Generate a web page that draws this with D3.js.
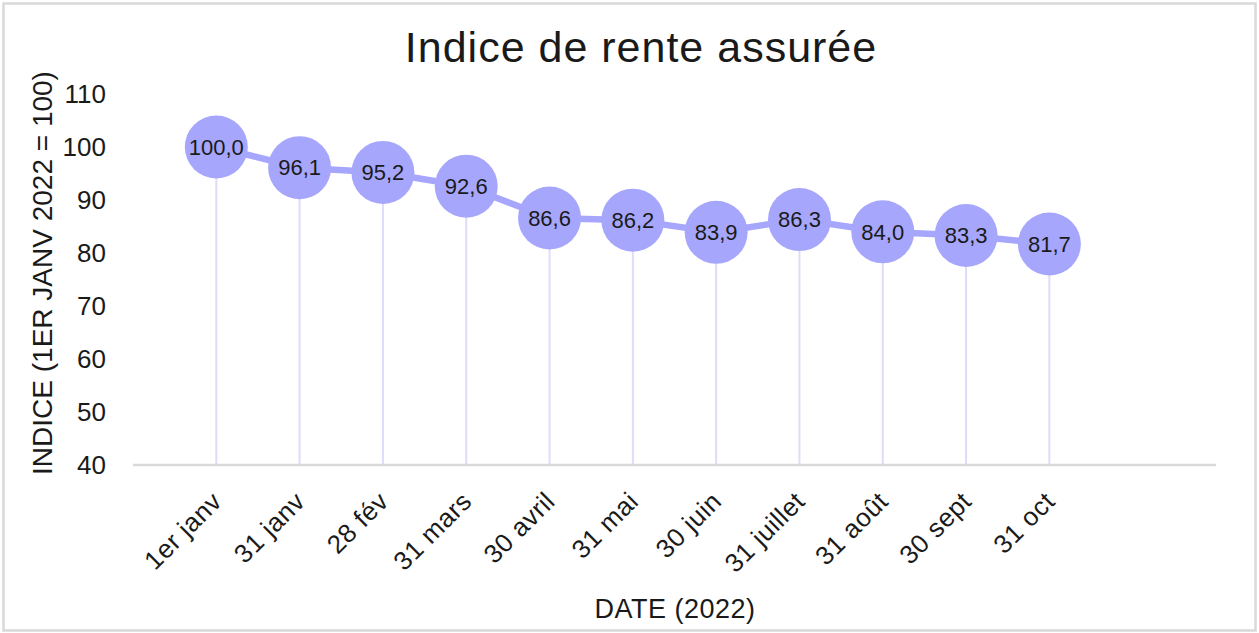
<!DOCTYPE html>
<html>
<head>
<meta charset="utf-8">
<script src="https://cdn.jsdelivr.net/npm/d3@7"></script>
<style>
  html, body { margin: 0; padding: 0; background: #fff; }
  svg { display: block; font-family: "Liberation Sans", Arial, sans-serif; }
</style>
</head>
<body>
<div id="chart"></div>
<script>
// Chart data
const dates = ["1er janv", "31 janv", "28 fév", "31 mars", "30 avril", "31 mai",
    "30 juin", "31 juillet", "31 août", "30 sept", "31 oct"];
const indexValues = [100.0, 96.1, 95.2, 92.6, 86.6, 86.2, 83.9, 86.3, 84.0, 83.3, 81.7];
const yTicks = [40, 50, 60, 70, 80, 90, 100, 110];

const width = 1259, height = 633;
const plot = {left: 133, right: 1216, top: 94, bottom: 465};
const textColor = "#1a1a1a";

const svg = d3.select("#chart")
    .append("svg")
    .attr("width", width)
    .attr("height", height);

// Outer frame
svg.append("rect")
    .attr("x", 3.5).attr("y", 3.5)
    .attr("width", width - 7).attr("height", height - 6)
    .attr("fill", "#fff")
    .attr("stroke", "#d9d9d9")
    .attr("stroke-width", 2.5);

// Scales: category axis leaves one empty slot before and two after the data
const x = d3.scaleLinear()
    .domain([-1, dates.length + 1])
    .range([plot.left, plot.right]);
const y = d3.scaleLinear()
    .domain([40, 110])
    .range([plot.bottom, plot.top]);

// Title
svg.append("text")
    .attr("x", 641)
    .attr("y", 62)
    .attr("text-anchor", "middle")
    .attr("font-size", "43px")
    .attr("letter-spacing", "1px")
    .attr("fill", textColor)
    .text("Indice de rente assurée");

// Y axis (labels only)
const yAxis = svg.append("g")
    .attr("transform", `translate(106,0)`)
    .call(d3.axisLeft(y).tickValues(yTicks).tickSize(0).tickPadding(0));
yAxis.select(".domain").remove();
yAxis.selectAll("text")
    .attr("font-size", "26px")
    .attr("fill", textColor)
    .attr("font-family", "Liberation Sans, Arial, sans-serif");

svg.append("text")
    .attr("transform", `translate(52,273) rotate(-90)`)
    .attr("text-anchor", "middle")
    .attr("font-size", "28px")
    .attr("fill", textColor)
    .text("INDICE (1ER JANV 2022 = 100)");

// Drop lines
svg.append("g")
    .selectAll("line")
    .data(indexValues)
    .enter()
    .append("line")
    .attr("x1", (d, i) => x(i))
    .attr("x2", (d, i) => x(i))
    .attr("y1", d => y(d))
    .attr("y2", plot.bottom)
    .attr("stroke", "#dcdcfb")
    .attr("stroke-width", 2);

// X axis line
svg.append("line")
    .attr("x1", plot.left).attr("x2", plot.right)
    .attr("y1", plot.bottom).attr("y2", plot.bottom)
    .attr("stroke", "#d9d9d9")
    .attr("stroke-width", 2.5);

// X tick labels
svg.append("g")
    .selectAll("text")
    .data(dates)
    .enter()
    .append("text")
    .attr("transform", (d, i) => `translate(${x(i) + 7},${plot.bottom + 38}) rotate(-45)`)
    .attr("text-anchor", "end")
    .attr("font-size", "26px")
    .attr("letter-spacing", "0.5px")
    .attr("fill", textColor)
    .text(d => d);

svg.append("text")
    .attr("x", 675)
    .attr("y", 618)
    .attr("text-anchor", "middle")
    .attr("font-size", "27px")
    .attr("letter-spacing", "0.5px")
    .attr("fill", textColor)
    .text("DATE (2022)");

// Line
const line = d3.line()
    .x((d, i) => x(i))
    .y(d => y(d));
svg.append("path")
    .datum(indexValues)
    .attr("d", line)
    .attr("fill", "none")
    .attr("stroke", "#a6a6fc")
    .attr("stroke-width", 6.5);

// Markers
const markers = svg.append("g")
    .selectAll("g")
    .data(indexValues)
    .enter()
    .append("g")
    .attr("transform", (d, i) => `translate(${x(i)},${y(d)})`);
markers.append("circle")
    .attr("r", 31.5)
    .attr("fill", "#a6a6fd");
markers.append("text")
    .attr("text-anchor", "middle")
    .attr("dy", "0.35em")
    .attr("font-size", "22px")
    .attr("fill", textColor)
    .text(d => d.toFixed(1).replace(".", ","));
</script>
</body>
</html>
